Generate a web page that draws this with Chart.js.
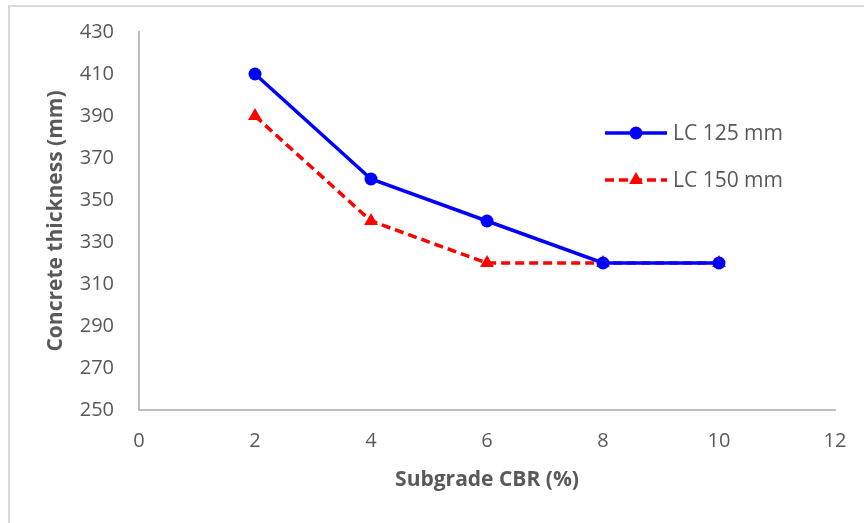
<!DOCTYPE html>
<html>
<head>
<meta charset="utf-8">
<script src="https://cdn.jsdelivr.net/npm/chart.js@4.4.1/dist/chart.umd.min.js"></script>
<style>
  html, body { margin: 0; padding: 0; background: #fff; }
  #wrap { position: relative; width: 864px; height: 523px; }
  #frame { position: absolute; left: 8px; top: 5px; right: 0; bottom: 0;
           border-top: 2px solid #d9d9d9; border-left: 2px solid #d9d9d9; }
  canvas { position: absolute; left: 0; top: 0; }
</style>
</head>
<body>
<div id="wrap">
  <div id="frame"></div>
  <canvas id="thicknessChart" width="864" height="523"></canvas>
</div>
<script>
// Epaisseur de dalle selon le CBR du sol support
const cbrValues = [2, 4, 6, 8, 10];
const lc125 = [410, 360, 340, 320, 320];
const lc150 = [390, 340, 320, 320, 320];
const seriesLabels = ['LC 125 mm', 'LC 150 mm'];

const textColor = '#595959';
const axisColor = '#bfbfbf';
const fontFamily = '"Open Sans", sans-serif';

// Légende dessinée dans la zone du graphique, à droite
const insideLegend = {
    id: 'insideLegend',
    afterDraw(chart) {
        const ctx = chart.ctx;
        const rows = [133, 180];
        chart.data.datasets.forEach((ds, i) => {
            const y = rows[i];
            ctx.save();
            ctx.strokeStyle = ds.borderColor;
            ctx.lineWidth = ds.borderWidth;
            ctx.setLineDash(ds.borderDash || []);
            ctx.beginPath();
            ctx.moveTo(605, y);
            ctx.lineTo(667, y);
            ctx.stroke();
            ctx.setLineDash([]);
            ctx.fillStyle = ds.pointBackgroundColor;
            ctx.strokeStyle = ds.pointBorderColor;
            Chart.helpers.drawPoint(ctx, {
                pointStyle: ds.pointStyle,
                radius: ds.pointRadius,
                borderWidth: 0
            }, 636, y);
            ctx.fillStyle = textColor;
            ctx.font = '21px ' + fontFamily;
            ctx.textBaseline = 'middle';
            ctx.fillText(ds.label, 673, y + 1);
            ctx.restore();
        });
    }
};

// Graduations invisibles : elles servent juste à écarter les libellés de l'axe
const hiddenTicks = (len) => ({
    display: true,
    drawOnChartArea: false,
    drawTicks: true,
    tickLength: len,
    color: 'rgba(0,0,0,0)'
});

const ctx = document.getElementById('thicknessChart').getContext('2d');
new Chart(ctx, {
    type: 'line',
    data: {
        datasets: [
            {
                label: seriesLabels[0],
                data: cbrValues.map((x, i) => ({ x, y: lc125[i] })),
                borderColor: '#0000ff',
                borderWidth: 3.5,
                pointStyle: 'circle',
                pointRadius: 6.5,
                pointBackgroundColor: '#0000ff',
                pointBorderColor: '#0000ff',
                pointBorderWidth: 0,
                tension: 0
            },
            {
                label: seriesLabels[1],
                data: cbrValues.map((x, i) => ({ x, y: lc150[i] })),
                borderColor: '#ff0000',
                borderWidth: 3.5,
                borderDash: [9, 5],
                pointStyle: 'triangle',
                pointRadius: 8,
                pointBackgroundColor: '#ff0000',
                pointBorderColor: '#ff0000',
                pointBorderWidth: 0,
                tension: 0
            }
        ]
    },
    options: {
        responsive: false,
        animation: false,
        layout: { padding: { top: 32, right: 29, bottom: 0, left: 0 } },
        plugins: {
            legend: { display: false },
            tooltip: { enabled: false }
        },
        scales: {
            x: {
                type: 'linear',
                min: 0,
                max: 12,
                afterFit: s => { s.height = 113; },
                grid: hiddenTicks(15),
                border: { display: true, color: axisColor, width: 2 },
                ticks: {
                    stepSize: 2,
                    padding: 4,
                    color: textColor,
                    font: { family: fontFamily, size: 20 }
                },
                title: {
                    display: true,
                    text: 'Subgrade CBR (%)',
                    color: textColor,
                    font: { family: fontFamily, size: 21, weight: 'bold' },
                    padding: { top: 0, bottom: 30 }
                }
            },
            y: {
                min: 250,
                max: 430,
                afterFit: s => { s.width = 139; },
                grid: hiddenTicks(20),
                border: { display: true, color: axisColor, width: 2 },
                ticks: {
                    stepSize: 20,
                    padding: 5,
                    color: textColor,
                    font: { family: fontFamily, size: 20 }
                },
                title: {
                    display: true,
                    text: 'Concrete thickness (mm)',
                    color: textColor,
                    font: { family: fontFamily, size: 21, weight: 'bold' },
                    padding: { top: 43, bottom: 0 }
                }
            }
        }
    },
    plugins: [insideLegend]
});
</script>
</body>
</html>
